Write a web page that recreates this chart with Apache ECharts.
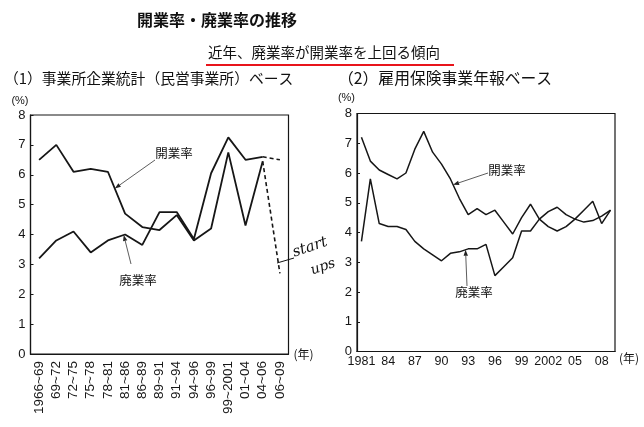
<!DOCTYPE html>
<html>
<head>
<meta charset="utf-8">
<script src="https://cdn.jsdelivr.net/npm/echarts@6/dist/echarts.min.js"></script>
<style>
  html, body { margin: 0; padding: 0; background: #fff; }
  #main { width: 644px; height: 427px; }
</style>
</head>
<body>
<div id="main"></div>
<script type="text/javascript">
// (1) 事業所企業統計ベース
var periods = ['1966~69', '69~72', '72~75', '75~78', '78~81', '81~86', '86~89', '89~91',
               '91~94', '94~96', '96~99', '99~2001', '01~04', '04~06', '06~09'];
var openRate1  = [6.5, 7.0, 6.1, 6.2, 6.1, 4.7, 4.25, 4.15, 4.65, 3.8, 4.2, 6.75, 4.3, 6.45, 2.7];
var closeRate1 = [3.2, 3.8, 4.1, 3.4, 3.8, 4.0, 3.65, 4.75, 4.75, 3.85, 6.05, 7.25, 6.5, 6.6, 6.5];
var dashFrom1 = 13; // 04~06 -> 06~09 は破線

// (2) 雇用保険事業年報ベース
var years = ['1981', '1982', '1983', '1984', '1985', '1986', '1987', '1988', '1989', '1990',
             '1991', '1992', '1993', '1994', '1995', '1996', '1997', '1998', '1999', '2000',
             '2001', '2002', '2003', '2004', '2005', '2006', '2007', '2008', '2009'];
var yearLabels = {'1981': '1981', '1984': '84', '1987': '87', '1990': '90', '1993': '93',
                  '1996': '96', '1999': '99', '2002': '2002', '2005': '05', '2008': '08'};
var openRate2  = [7.2, 6.4, 6.1, 5.95, 5.8, 6.0, 6.8, 7.4, 6.7, 6.3, 5.8, 5.15, 4.6, 4.8, 4.6,
                  4.75, 4.35, 3.95, 4.5, 4.95, 4.45, 4.2, 4.05, 4.2, 4.45, 4.75, 5.05, 4.3, 4.75];
var closeRate2 = [3.7, 5.8, 4.3, 4.2, 4.2, 4.1, 3.7, 3.45, 3.25, 3.05, 3.3, 3.35, 3.45, 3.45, 3.6,
                  2.55, 2.85, 3.15, 4.05, 4.05, 4.45, 4.7, 4.85, 4.6, 4.45, 4.35, 4.4, 4.55, 4.75];

var yTicks = [0, 8, 1];
var INK = '#161616';
var NUM_FONT = 'Liberation Sans, Arial, sans-serif';
var JP_FONT = '"Noto Sans CJK JP", sans-serif';

function solidPart(arr) { return arr.map(function (v, i) { return i <= dashFrom1 ? v : '-'; }); }
function dashPart(arr)  { return arr.map(function (v, i) { return i >= dashFrom1 ? v : '-'; }); }

function yAxisOf(gridIndex, nameGap) {
  return {
    type: 'value', gridIndex: gridIndex, min: yTicks[0], max: yTicks[1], interval: yTicks[2],
    name: '(%)', nameLocation: 'end', nameGap: nameGap,
    nameTextStyle: { color: INK, fontSize: 11, fontFamily: NUM_FONT, align: 'right', padding: [0, 2, 0, 0] },
    axisLine: { show: true, lineStyle: { color: INK, width: 1.2 } },
    axisTick: { show: true, inside: true, length: 3, lineStyle: { color: INK } },
    axisLabel: { color: INK, fontSize: 13, fontFamily: NUM_FONT, margin: 5 },
    splitLine: { show: false }
  };
}

function lineSeries(x, y, data, width, dashed) {
  return {
    type: 'line', xAxisIndex: x, yAxisIndex: y, data: data, symbol: 'none',
    connectNulls: false, silent: true,
    lineStyle: { color: INK, width: width, type: dashed ? [4, 3] : 'solid' }
  };
}

var chart = echarts.init(document.getElementById('main'));

var option = {
  animation: false,
  backgroundColor: '#fff',
  grid: [
    { left: 30.5, top: 115, width: 258, height: 239, show: true, borderColor: INK, borderWidth: 1.2, backgroundColor: 'transparent' },
    { left: 357, top: 113.5, width: 258, height: 238, show: true, borderColor: INK, borderWidth: 1.2, backgroundColor: 'transparent' }
  ],
  xAxis: [
    {
      type: 'category', gridIndex: 0, data: periods, boundaryGap: true,
      name: '(年)', nameLocation: 'end', nameGap: 5,
      nameTextStyle: { color: INK, fontSize: 12, fontFamily: JP_FONT, verticalAlign: 'middle' },
      axisLine: { lineStyle: { color: INK, width: 1.2 } },
      axisTick: { inside: true, length: 3, lineStyle: { color: INK } },
      axisLabel: { rotate: 90, interval: 0, color: INK, fontSize: 13.5, fontFamily: NUM_FONT, margin: 7 }
    },
    {
      type: 'category', gridIndex: 1, data: years, boundaryGap: true,
      name: '(年)', nameLocation: 'end', nameGap: 4,
      nameTextStyle: { color: INK, fontSize: 12, fontFamily: JP_FONT, verticalAlign: 'top', padding: [1, 0, 0, 0] },
      axisLine: { lineStyle: { color: INK, width: 1.2 } },
      axisTick: { inside: true, length: 3, alignWithLabel: true, interval: 0, lineStyle: { color: INK } },
      axisLabel: {
        color: INK, fontSize: 12.5, fontFamily: NUM_FONT, margin: 4,
        interval: function (i, v) { return yearLabels[v] !== undefined; },
        formatter: function (v) { return yearLabels[v] || ''; }
      }
    }
  ],
  yAxis: [yAxisOf(0, 9), yAxisOf(1, 10)],
  series: [
    lineSeries(0, 0, solidPart(openRate1), 1.8, false),
    lineSeries(0, 0, dashPart(openRate1), 1.6, true),
    lineSeries(0, 0, solidPart(closeRate1), 1.8, false),
    lineSeries(0, 0, dashPart(closeRate1), 1.6, true),
    lineSeries(1, 1, openRate2, 1.5, false),
    lineSeries(1, 1, closeRate2, 1.5, false)
  ]
};
chart.setOption(option);

// 注記の矢印は系列上の点から求める
function onLine(gridIndex, arr, i, t) {
  var a = chart.convertToPixel({ gridIndex: gridIndex }, [i, arr[i]]);
  var b = chart.convertToPixel({ gridIndex: gridIndex }, [i + 1, arr[i + 1]]);
  return [a[0] + (b[0] - a[0]) * t, a[1] + (b[1] - a[1]) * t];
}
function arrow(tail, tip) {
  var dx = tip[0] - tail[0], dy = tip[1] - tail[1];
  var len = Math.sqrt(dx * dx + dy * dy), ux = dx / len, uy = dy / len;
  var hl = 6, hw = 2.2;
  var bx = tip[0] - ux * hl, by = tip[1] - uy * hl;
  return [
    { type: 'line', silent: true, shape: { x1: tail[0], y1: tail[1], x2: bx, y2: by }, style: { stroke: '#333', lineWidth: 0.8 } },
    { type: 'polygon', silent: true, shape: { points: [tip, [bx - uy * hw, by + ux * hw], [bx + uy * hw, by - ux * hw]] }, style: { fill: '#222' } }
  ];
}
function label(text, x, y, size, opts) {
  opts = opts || {};
  return {
    type: 'text', silent: true, x: x, y: y, rotation: opts.rotation || 0,
    style: {
      text: text, fill: opts.fill || '#111', align: opts.align || 'left', verticalAlign: 'middle',
      font: (opts.style || '') + ' ' + (opts.weight || 'normal') + ' ' + size + 'px ' + (opts.family || JP_FONT)
    }
  };
}

var g = [
  label('開業率・廃業率の推移', 137, 20, 16, { weight: 'bold' }),
  label('近年、廃業率が開業率を上回る傾向', 208, 52, 14.5),
  { type: 'line', silent: true, shape: { x1: 206, y1: 65, x2: 454, y2: 65 }, style: { stroke: '#e8141b', lineWidth: 2 } },
  label('（1）事業所企業統計（民営事業所）ベース', 4, 78, 14.8),
  label('（2）雇用保険事業年報ベース', 338, 78, 15.8),
  label('開業率', 174, 153, 12.5, { align: 'center' }),
  label('廃業率', 138, 280, 12.5, { align: 'center' }),
  label('開業率', 507, 170, 12.5, { align: 'center' }),
  label('廃業率', 474, 292, 12.5, { align: 'center' }),
  // 手書きの書き込み
  { type: 'line', silent: true, shape: { x1: 277, y1: 263, x2: 294, y2: 258 }, style: { stroke: '#111', lineWidth: 1 } },
  label('start', 293, 253, 15, { family: '"DejaVu Serif", serif', style: 'italic', rotation: 0.32 }),
  label('ups', 311, 271, 14, { family: '"DejaVu Serif", serif', style: 'italic', rotation: 0.32 })
];
g = g.concat(arrow([155, 160], onLine(0, openRate1, 4, 0.4)));
g = g.concat(arrow([131, 264], onLine(0, closeRate1, 4, 0.92)));
g = g.concat(arrow([488, 173], onLine(1, openRate2, 10, 0.3)));
g = g.concat(arrow([467, 286], onLine(1, closeRate2, 11, 0.7)));

chart.setOption({ graphic: { elements: g } });
</script>
</body>
</html>
